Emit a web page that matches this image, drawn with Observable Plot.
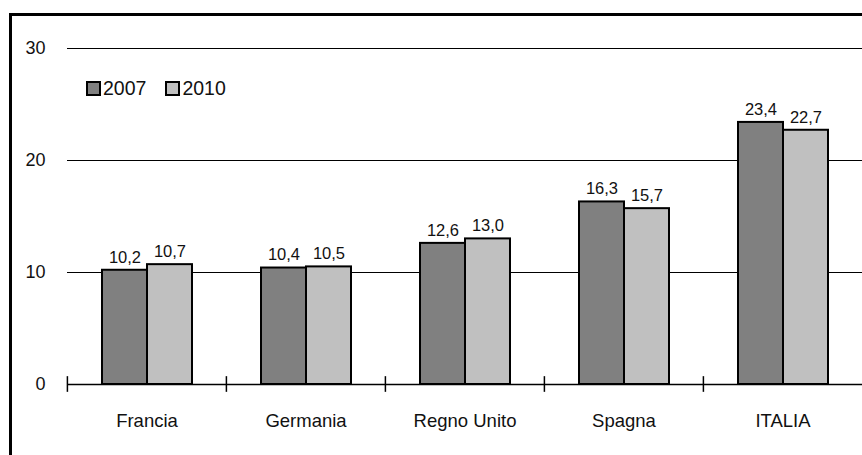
<!DOCTYPE html>
<html>
<head>
<meta charset="utf-8">
<script src="https://cdn.jsdelivr.net/npm/d3@7"></script>
<script src="https://cdn.jsdelivr.net/npm/@observablehq/plot@0.6"></script>
<style>
  html, body { margin: 0; padding: 0; background: white; overflow: hidden; }
  #wrap { position: relative; width: 862px; height: 455px; overflow: hidden; }
  #frame { position: absolute; left: 9px; top: 13px; width: 900px; height: 500px;
           border-left: 3px solid black; border-top: 3px solid black; pointer-events: none; }
  #legend { position: absolute; left: 86px; top: 77px; display: flex; align-items: center;
            font-family: "Liberation Sans", Arial, sans-serif;
            font-size: 19.5px; color: #111; }
  .item { display: flex; align-items: center; margin-right: 19px; }
  .sw { width: 15px; height: 15px; box-sizing: border-box; border: 2px solid black; margin-right: 2px; }
</style>
</head>
<body>
<div id="wrap">
  <div id="chart"></div>
  <div id="legend"></div>
  <div id="frame"></div>
</div>
<script>
const countries = ["Francia", "Germania", "Regno Unito", "Spagna", "ITALIA"];
const years = ["2007", "2010"];
const values2007 = [10.2, 10.4, 12.6, 16.3, 23.4];
const values2010 = [10.7, 10.5, 13.0, 15.7, 22.7];
const yTicks = [0, 10, 20, 30];
const colors = ["#808080", "#c0c0c0"];

const data = countries.flatMap((c, i) => [
  {country: c, year: years[0], value: values2007[i]},
  {country: c, year: years[1], value: values2010[i]}
]);

const W = 862, ML = 66, MR = 0;
const step = (W - ML - MR) / countries.length;
const font = '"Liberation Sans", Arial, sans-serif';

const chart = Plot.plot({
  width: W,
  height: 455,
  marginLeft: ML,
  marginRight: MR,
  marginTop: 48,
  marginBottom: 71,
  style: {fontFamily: font, background: "white", color: "#111"},
  fx: {domain: countries, padding: 0, axis: null},
  x: {domain: years, paddingInner: 0, paddingOuter: 0.74, axis: null},
  y: {domain: [0, 30], axis: null},
  color: {domain: years, range: colors},
  marks: [
    Plot.ruleY(yTicks.slice(1), {stroke: "black", strokeWidth: 1}),
    Plot.barY(data, {fx: "country", x: "year", y: "value", fill: "year", stroke: "black", strokeWidth: 2}),
    Plot.ruleY([0], {stroke: "black", strokeWidth: 1.5}),
    Plot.ruleX(countries, {fx: d => d, x: null, y1: -0.7, y2: 0.7, dx: -step / 2, stroke: "black", strokeWidth: 1.5}),
    Plot.text(data, {fx: "country", x: "year", y: "value",
      text: d => d.value.toFixed(1).replace(".", ","), dy: -13, fontSize: 16.5, fill: "#111"}),
    Plot.axisY({ticks: yTicks, tickSize: 0, tickPadding: 22, fontSize: 18, label: null}),
    Plot.axisFx({anchor: "bottom", tickSize: 0, tickPadding: 29, fontSize: 18.5, label: null})
  ]
});
document.getElementById("chart").appendChild(chart);

const legend = document.getElementById("legend");
years.forEach((y, i) => {
  const item = document.createElement("div");
  item.className = "item";
  const sw = document.createElement("div");
  sw.className = "sw";
  sw.style.background = colors[i];
  const t = document.createElement("span");
  t.textContent = y;
  item.appendChild(sw);
  item.appendChild(t);
  legend.appendChild(item);
});
</script>
</body>
</html>
